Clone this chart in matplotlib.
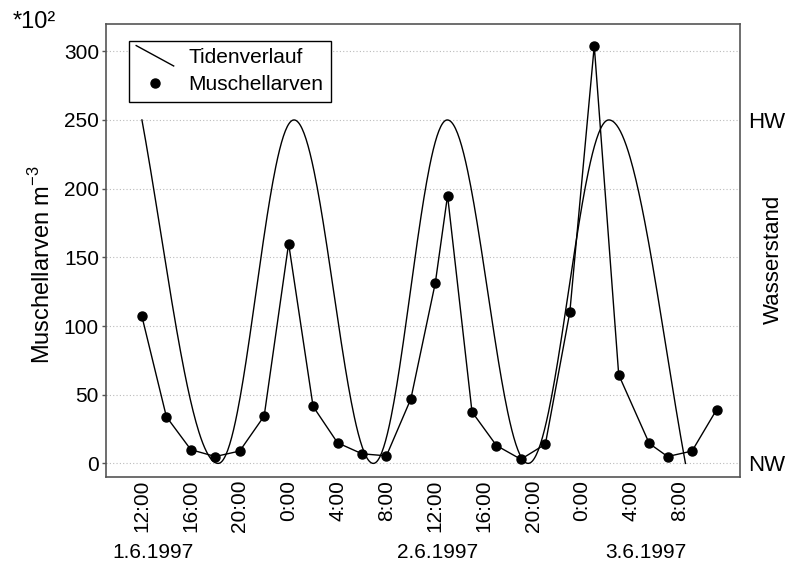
import numpy as np
import matplotlib
matplotlib.use("Agg")
import matplotlib.pyplot as plt
from matplotlib.lines import Line2D
from matplotlib.legend_handler import HandlerBase

plt.rcParams["font.family"] = ["Liberation Sans", "DejaVu Sans"]
plt.rcParams["font.size"] = 15
plt.rcParams["mathtext.fontset"] = "custom"
plt.rcParams["mathtext.rm"] = "Liberation Sans"

# Probennahme: Stunden ab 1.6.1997 0:00, Muschellarven in 100 pro m^3
sample_hours = [12, 14, 16, 18, 20, 22, 24, 26, 28, 30, 32, 34, 36, 37,
                39, 41, 43, 45, 47, 49, 51, 53.5, 55, 57, 59]
larvae = [107, 34, 10, 5, 9, 34.5, 160, 41.5, 15, 7, 5.5, 47, 131.5, 195,
          37.5, 13, 3, 14, 110, 304, 64.5, 14.5, 5, 9, 39]

# Hoch- und Niedrigwasser (Zeit in Stunden, Pegel auf der Larvenskala)
tide_hours = [12, 18.24, 24.44, 30.93, 36.98, 43.59, 50.19, 56.46]
tide_levels = [250, 0, 250, 0, 250, 0, 250, 0]

tick_hours = [12, 16, 20, 24, 28, 32, 36, 40, 44, 48, 52, 56]
tick_labels = ["12:00", "16:00", "20:00", "0:00", "4:00", "8:00",
               "12:00", "16:00", "20:00", "0:00", "4:00", "8:00"]
date_labels = ["1.6.1997", "2.6.1997", "3.6.1997"]
date_hours = [12.9, 36.2, 53.2]

# Tidenkurve: Kosinus-Halbwellen zwischen HW und NW,
# erste und letzte Welle angeschnitten
edge_phase = 1.05
tide_x, tide_y = [], []
n_seg = len(tide_hours) - 1
for i in range(n_seg):
    p0 = edge_phase if i == 0 else 0.0
    p1 = np.pi - edge_phase if i == n_seg - 1 else np.pi
    p = np.linspace(p0, p1, 80)
    s = (p - p0) / (p1 - p0)
    t0, t1 = tide_hours[i], tide_hours[i + 1]
    l0, l1 = tide_levels[i], tide_levels[i + 1]
    tide_x.extend(t0 + (t1 - t0) * s)
    tide_y.extend(l0 + (l1 - l0) * (np.cos(p0) - np.cos(p))
                  / (np.cos(p0) - np.cos(p1)))


class DiagonalLine(HandlerBase):
    def create_artists(self, legend, orig_handle, xdescent, ydescent,
                       width, height, fontsize, trans):
        line = Line2D([-xdescent, -xdescent + width],
                      [-ydescent + height * 1.2, -ydescent - height * 0.2],
                      color="black", lw=1.0)
        line.set_transform(trans)
        return [line]


fig = plt.figure(figsize=(7.9, 5.66), dpi=100)
ax = fig.add_axes([0.134, 0.157, 0.803, 0.801])

tide_line, = ax.plot(tide_x, tide_y, color="black", lw=1.0)
ax.plot(sample_hours, larvae, color="black", lw=1.0, zorder=3)
ax.plot(sample_hours, larvae, "o", color="black", ms=6.5, zorder=4)

ax.set_xlim(9.05, 60.94)
ax.set_ylim(-10, 320)
ax.set_yticks([0, 50, 100, 150, 200, 250, 300])
ax.set_xticks(tick_hours)
ax.set_xticklabels(tick_labels, rotation=90)
ax.tick_params(axis="x", length=0, pad=2)
ax.tick_params(axis="y", length=3, width=1, color="#555555", pad=2)
ax.grid(axis="y", color="#bbbbbb", linestyle=(0, (1, 2)), lw=0.8)
ax.set_axisbelow(True)
for sp in ax.spines.values():
    sp.set_color("#555555")
    sp.set_linewidth(1.2)

ax.set_ylabel("Muschellarven m$^{\\mathregular{-3}}$", fontsize=17)
ax.yaxis.set_label_coords(-0.08, 0.468)

# rechte Achse: Wasserstand
ax2 = ax.twinx()
ax2.set_ylim(ax.get_ylim())
ax2.set_yticks([0, 250])
ax2.set_yticklabels(["NW", "HW"], fontsize=16)
ax2.tick_params(axis="y", length=0, pad=6)
ax2.set_ylabel("Wasserstand", fontsize=16)
ax2.yaxis.set_label_coords(1.035, 0.48)
for sp in ax2.spines.values():
    sp.set_visible(False)

marker_proxy = Line2D([], [], marker="o", color="black", ls="none", ms=6.5)
ax.legend([tide_line, marker_proxy], ["Tidenverlauf", "Muschellarven"],
          handler_map={tide_line: DiagonalLine()},
          loc="upper left", bbox_to_anchor=(0.0363, 0.9625),
          borderaxespad=0, fancybox=False, edgecolor="black", framealpha=1,
          handlelength=1.8, handletextpad=0.7, borderpad=0.35,
          labelspacing=0.4, fontsize=15)
ax.get_legend().get_frame().set_linewidth(1.0)

fig.text(0.016, 0.962, "*10²", fontsize=17, va="center", ha="left")
for h, d in zip(date_hours, date_labels):
    x_fig = fig.transFigure.inverted().transform(
        ax.transData.transform((h, 0)))[0]
    fig.text(x_fig, 1 - 553 / 566, d, ha="center", va="center", fontsize=15)

fig.savefig("out.png", dpi=100)
